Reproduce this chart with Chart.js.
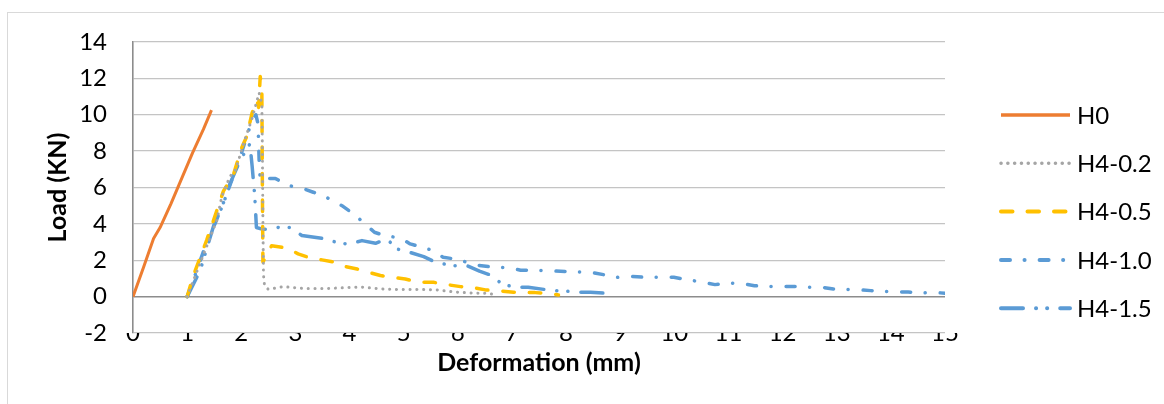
<!DOCTYPE html>
<html>
<head>
<meta charset="utf-8">
<script src="https://cdn.jsdelivr.net/npm/chart.js@4.4.1/dist/chart.umd.min.js"></script>
<style>
  html, body { margin: 0; padding: 0; background: #fff; }
  #wrap { position: relative; width: 1164px; height: 404px; overflow: hidden; }
  #frame { position: absolute; left: 7px; top: 12px; width: 1170px; height: 420px; border: 1px solid #d9d9d9; }
  #chart { position: absolute; left: 0; top: 0; }
</style>
</head>
<body>
<div id="wrap">
  <div id="frame"></div>
  <canvas id="chart" width="1164" height="404"></canvas>
</div>
<script>
// series names and axis labels
const seriesNames = ['H0', 'H4-0.2', 'H4-0.5', 'H4-1.0', 'H4-1.5'];
const xTitle = 'Deformation (mm)';
const yTitle = 'Load (KN)';

// H0
const h0X = [0, 0.2, 0.38, 0.5, 0.7, 0.9, 1.1, 1.3, 1.45];
const h0Y = [0, 1.65, 3.2, 3.8, 5.1, 6.5, 7.9, 9.2, 10.25];

// H4-0.2
const h02X = [1.0, 1.3, 1.55, 1.64, 1.79, 1.9, 2.04, 2.2, 2.33, 2.38, 2.39, 2.4, 2.41, 2.43, 2.5, 2.78, 3.15, 3.6, 4.0, 4.2, 4.69, 5.31, 5.62, 5.92, 6.23, 6.54, 6.72];
const h02Y = [0, 2.3, 4.2, 5.5, 6.6, 7.0, 8.4, 9.8, 11.2, 10.6, 8.0, 4.0, 1.2, 0.6, 0.4, 0.55, 0.45, 0.45, 0.5, 0.53, 0.4, 0.39, 0.37, 0.26, 0.2, 0.18, 0.09];

// H4-0.5
const h05X = [1.0, 1.12, 1.36, 1.5, 1.67, 1.86, 2.01, 2.1, 2.2, 2.29, 2.32, 2.35, 2.38, 2.39, 2.4, 2.56, 2.84, 3.05, 3.27, 3.49, 3.74, 3.92, 4.14, 4.35, 4.57, 4.78, 5.03, 5.27, 5.55, 5.8, 6.05, 6.26, 6.51, 6.76, 7.03, 7.22, 7.43, 7.65, 7.86];
const h05Y = [0, 1.2, 3.1, 4.3, 5.8, 6.75, 8.2, 8.8, 10.1, 10.8, 10.4, 12.1, 11.4, 6.0, 1.9, 2.8, 2.68, 2.35, 2.13, 2.02, 1.89, 1.65, 1.52, 1.34, 1.16, 1.06, 0.97, 0.79, 0.79, 0.66, 0.55, 0.51, 0.37, 0.32, 0.24, 0.24, 0.22, 0.18, 0.09];

// H4-1.0
const h10X = [1.0, 1.15, 1.35, 1.5, 1.65, 1.8, 1.95, 2.1, 2.2, 2.27, 2.31, 2.33, 2.35, 2.5, 2.63, 2.8, 2.95, 3.1, 3.33, 3.59, 3.86, 4.05, 4.23, 4.46, 4.7, 4.91, 5.12, 5.34, 5.55, 5.73, 6.0, 6.3, 6.68, 6.94, 7.16, 7.6, 8.0, 8.45, 8.69, 8.94, 9.2, 9.46, 9.99, 10.27, 10.52, 10.75, 11.02, 11.28, 11.48, 11.78, 12.24, 12.47, 12.74, 12.94, 13.19, 13.43, 13.63, 13.86, 14.32, 14.57, 14.8, 15.0];
const h10Y = [0, 1.2, 2.9, 3.9, 5.0, 6.2, 7.4, 8.8, 9.7, 10.0, 9.5, 7.5, 6.4, 6.5, 6.5, 6.2, 6.05, 5.98, 5.74, 5.43, 5.0, 4.6, 4.15, 3.54, 3.3, 3.27, 2.9, 2.71, 2.53, 2.16, 2.05, 1.75, 1.61, 1.6, 1.45, 1.43, 1.38, 1.34, 1.21, 1.06, 1.12, 1.06, 1.06, 0.92, 0.79, 0.66, 0.75, 0.7, 0.6, 0.55, 0.55, 0.51, 0.51, 0.42, 0.39, 0.37, 0.33, 0.29, 0.25, 0.2, 0.24, 0.18];

// H4-1.5
const h15X = [1.0, 1.24, 1.49, 1.67, 1.79, 1.98, 2.16, 2.2, 2.25, 2.28, 2.4, 2.5, 2.69, 2.9, 3.12, 3.35, 3.58, 3.8, 4.0, 4.23, 4.48, 4.69, 4.88, 5.1, 5.37, 5.59, 5.89, 6.17, 6.4, 6.63, 6.81, 7.07, 7.3, 7.77, 8.04, 8.24, 8.45, 8.91];
const h15Y = [0, 1.43, 3.9, 5.1, 6.2, 7.5, 8.4, 7.2, 5.5, 3.8, 3.7, 3.7, 3.81, 3.8, 3.36, 3.26, 3.17, 2.93, 2.9, 3.08, 2.93, 3.17, 2.62, 2.45, 2.2, 1.89, 1.7, 1.7, 1.4, 1.16, 0.7, 0.51, 0.51, 0.33, 0.29, 0.24, 0.24, 0.15];

// axis ticks
const xTicksMin = 0, xTicksMax = 15, xStep = 1;
const yTicksMin = -2, yTicksMax = 14, yStep = 2;

const toPoints = (xs, ys) => xs.map((x, i) => ({ x, y: ys[i] }));

Chart.defaults.font.family = 'Lato, "Open Sans", sans-serif';
Chart.defaults.color = '#000';

const sideLegend = {
    id: 'sideLegend',
    afterDraw(chart) {
        const ctx = chart.ctx;
        chart.data.datasets.forEach((ds, i) => {
            const y = 115 + i * 48.3;
            ctx.save();
            ctx.strokeStyle = ds.borderColor;
            ctx.lineWidth = ds.borderWidth + 0.5;
            ctx.lineCap = ds.borderCapStyle;
            ctx.setLineDash(ds.borderDash);
            ctx.beginPath();
            ctx.moveTo(1001, y);
            ctx.lineTo(1070, y);
            ctx.stroke();
            ctx.restore();
            ctx.save();
            ctx.fillStyle = '#000';
            ctx.font = '24px Lato';
            ctx.textBaseline = 'middle';
            ctx.fillText(ds.label, 1077, y + 1);
            ctx.restore();
        });
    }
};

const baseLine = {
    showLine: true,
    pointRadius: 0,
    pointHoverRadius: 0,
    fill: false,
    tension: 0,
    borderCapStyle: 'round',
    borderJoinStyle: 'round'
};

new Chart(document.getElementById('chart'), {
    type: 'scatter',
    data: {
        datasets: [
            { ...baseLine, label: seriesNames[0], data: toPoints(h0X, h0Y), borderColor: '#ED7D31', borderWidth: 3, borderDash: [], borderCapStyle: 'butt' },
            { ...baseLine, label: seriesNames[1], data: toPoints(h02X, h02Y), borderColor: '#A5A5A5', borderWidth: 3, borderDash: [0.1, 6.7] },
            { ...baseLine, label: seriesNames[2], data: toPoints(h05X, h05Y), borderColor: '#FFC000', borderWidth: 3.5, borderDash: [11.5, 15] },
            { ...baseLine, label: seriesNames[3], data: toPoints(h10X, h10Y), borderColor: '#5B9BD5', borderWidth: 3.5, borderDash: [9, 14.5, 0.1, 15] },
            { ...baseLine, label: seriesNames[4], data: toPoints(h15X, h15Y), borderColor: '#5B9BD5', borderWidth: 3.5, borderDash: [22, 13, 0.1, 11, 0.1, 13] }
        ]
    },
    options: {
        responsive: false,
        animation: false,
        events: [],
        layout: { padding: { left: 10, right: 219, top: 42, bottom: 10 } },
        plugins: {
            legend: { display: false },
            tooltip: { enabled: false }
        },
        scales: {
            x: {
                type: 'linear',
                position: 'bottom',
                min: xTicksMin,
                max: xTicksMax,
                afterFit(scale) { scale.height = 61; },
                ticks: { stepSize: xStep, padding: -14, font: { size: 24 }, maxRotation: 0, color: '#000' },
                grid: { display: false, drawTicks: false },
                border: { display: false },
                title: { display: true, text: xTitle, font: { size: 25, weight: 'bold' }, padding: { top: 2, bottom: 16 }, color: '#000' }
            },
            y: {
                type: 'linear',
                min: yTicksMin,
                max: yTicksMax,
                afterFit(scale) { scale.width = 123; },
                ticks: { stepSize: yStep, padding: 26, font: { size: 24 }, color: '#000' },
                grid: {
                    drawTicks: false,
                    color: c => (c.tick && c.tick.value === 0 ? '#8c8c8c' : '#c4c4c4'),
                    lineWidth: c => (c.tick && c.tick.value === 0 ? 1.6 : 1.3)
                },
                border: { display: true, color: '#8c8c8c', width: 1.6 },
                title: { display: true, text: yTitle, font: { size: 25, weight: 'bold' }, padding: { top: 33, bottom: 0 }, color: '#000' }
            }
        }
    },
    plugins: [sideLegend]
});
</script>
</body>
</html>
